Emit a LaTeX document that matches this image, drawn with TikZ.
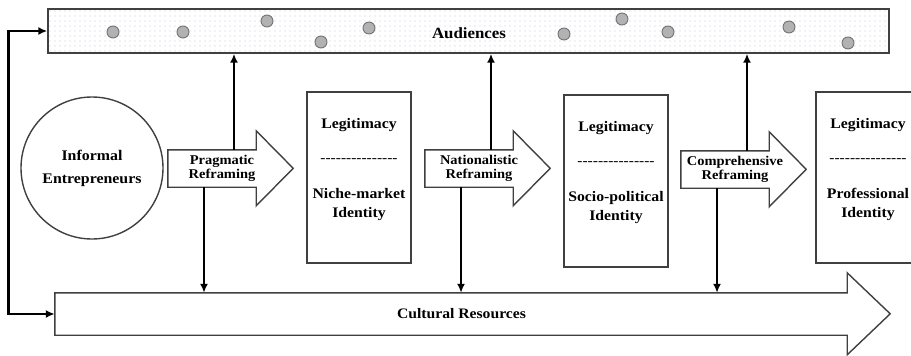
\documentclass[tikz,border=0pt]{standalone}
\usepackage{fontspec}
\setmainfont{Liberation Serif}[FakeStretch=1.08]
\usetikzlibrary{arrows.meta,patterns.meta}

\begin{document}
\begin{tikzpicture}[x=1pt,y=-1pt,
  outline/.style={draw=black!75, line width=1.4pt},
  conn/.style={draw=black, line width=2.6pt, -{Latex[length=9pt,width=8pt]}},
  shaft/.style={inner sep=0pt, minimum height=37pt, minimum width=88pt},
  framelbl/.style={font=\bfseries\fontsize{13.4}{14.2}\selectfont, align=center, inner sep=0pt},
  boxlbl/.style={font=\bfseries\fontsize{14.6}{18.5}\selectfont, align=center, inner sep=0pt},
  dashlbl/.style={font=\fontsize{14.3}{18.5}\selectfont, inner sep=0pt},
  legbox/.style={outline, fill=white, inner sep=0pt, minimum width=104pt, minimum height=171pt},
  crowd/.style={fill=black!30, draw=black!55, line width=0.9pt}
]
\useasboundingbox (0,0) rectangle (911,356);
\clip (0,0) rectangle (911,356);

% audiences band
\node[outline, pattern={Dots[distance=5pt, radius=0.6pt]}, pattern color=blue!30!black!22,
      minimum width=841pt, minimum height=44pt, inner sep=0pt] (aud) at (468.5,31) {};
\foreach \px/\py in {113/32, 183/32, 267/21, 321/42, 369/28, 564/34, 622/19, 668/32, 789/27, 848/43}
  \draw[crowd] (\px,\py) circle (6pt);
\node[font=\bfseries\fontsize{15.6}{18}\selectfont, inner sep=0pt] (audtxt) at (469,33) {Audiences};

% cultural resources arrow
\node[inner sep=0pt, minimum width=792pt, minimum height=42pt] (cult) at (451,314) {};
\draw[outline, fill=white] (cult.north west) -- (cult.north east) -- ++(0,-20) -- ++(43,41)
  -- ++(-43,41) -- (cult.south east) -- (cult.south west) -- cycle;
\node[font=\bfseries\fontsize{14.5}{18}\selectfont, inner sep=0pt] (culttxt) at (461.5,314) {Cultural Resources};

% entrepreneurs
\node[outline, circle, minimum size=142pt, inner sep=0pt, align=center,
      font=\bfseries\fontsize{14.7}{18}\selectfont] (ent) at (92,168) {Informal\\[5pt]Entrepreneurs};

% feedback loop
\draw[conn, {Latex[length=9pt,width=8pt]}-{Latex[length=9pt,width=8pt]}]
  (aud.west) -- ++(-39,0) |- (cult.west);

% reframing arrows
\node[shaft] (prag) at (212,168.5) {};
\node[shaft] (nat) at (469,168.5) {};
\node[shaft] (comp) at (725,169.5) {};
\foreach \n in {prag, nat, comp}
  \draw[outline, fill=white] (\n.north west) -- (\n.north east) -- ++(0,-19) -- ++(37,37.5)
    -- ++(-37,37.5) -- (\n.south east) -- (\n.south west) -- cycle;
\node[framelbl] (pragtxt) at ([xshift=10pt]prag.center) {Pragmatic\\Reframing};
\node[framelbl] (nattxt) at ([xshift=10pt]nat.center) {Nationalistic\\Reframing};
\node[framelbl] (comptxt) at ([xshift=10pt]comp.center) {Comprehensive\\Reframing};

% links to audiences and cultural resources
\foreach \n in {prag, nat, comp} {
  \draw[conn] ([xshift=22pt]\n.north) -- ([xshift=22pt]\n.north |- aud.south);
  \draw[conn] ([xshift=-8pt]\n.south) -- ([xshift=-8pt]\n.south |- cult.north);
}

% legitimacy boxes
\node[legbox] (leg1) at (359,177.5) {};
\node[legbox, minimum height=172pt] (leg2) at (616,181) {};
\node[legbox] (leg3) at (868,177.5) {};
\foreach \n/\idtext in {leg1/Niche-market\\Identity, leg2/Socio-political\\Identity, leg3/Professional\\Identity} {
  \node[boxlbl] (\n a) at ([yshift=-34pt]\n.north) {Legitimacy};
  \node[dashlbl] (\n b) at ([yshift=-69pt]\n.north) {-{}-{}-{}-{}-{}-{}-{}-{}-{}-{}-{}-{}-{}-{}-};
  \node[boxlbl] (\n c) at ([yshift=-113pt]\n.north) {\idtext};
}
\end{tikzpicture}
\end{document}
